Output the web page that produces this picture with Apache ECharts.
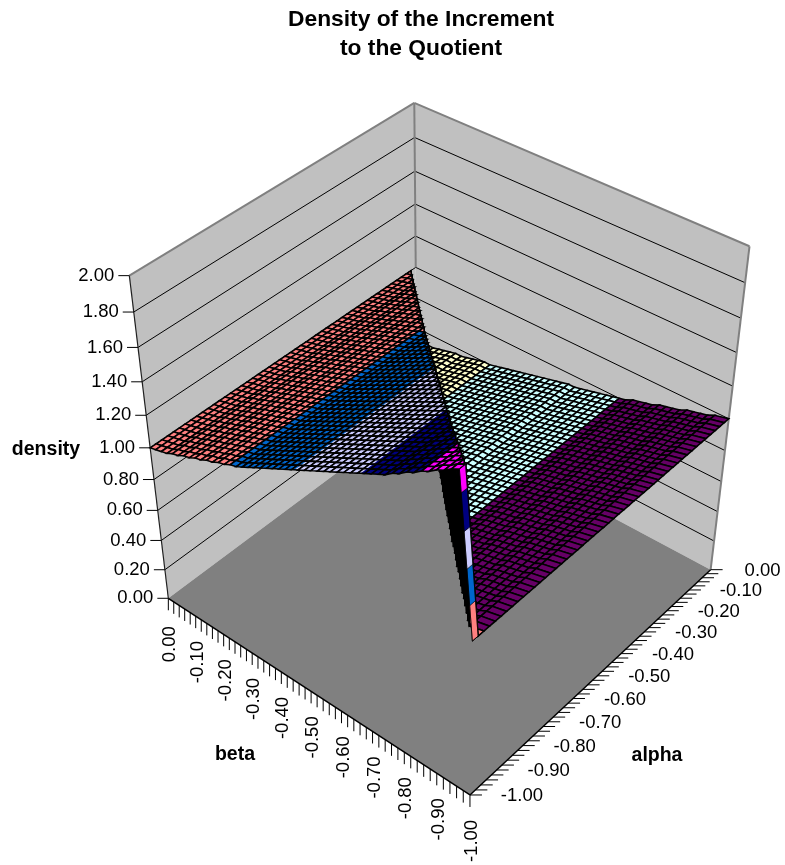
<!DOCTYPE html>
<html>
<head>
<meta charset="utf-8">
<title>Density of the Increment to the Quotient</title>
<script src="https://cdn.jsdelivr.net/npm/echarts@6/dist/echarts.min.js"></script>
<style>
  html, body { margin: 0; padding: 0; background: #fff; }
  #chart { width: 785px; height: 865px; }
</style>
</head>
<body>
<div id="chart"></div>
<script>
// mesh nodes of the surface
const alphaValues = [0, -0.02, -0.04, -0.06, -0.08, -0.1, -0.12, -0.14, -0.16, -0.18, -0.2, -0.22, -0.24, -0.26, -0.28, -0.3, -0.32, -0.34, -0.36, -0.38, -0.4, -0.42, -0.44, -0.46, -0.48, -0.5, -0.52, -0.54, -0.56, -0.58, -0.6, -0.62, -0.64, -0.66, -0.68, -0.7, -0.72, -0.74, -0.76, -0.78, -0.8, -0.82, -0.84, -0.86, -0.88, -0.9, -0.92, -0.94, -0.96, -0.98, -1];
const betaValues = [0, -0.02, -0.04, -0.06, -0.08, -0.1, -0.12, -0.14, -0.16, -0.18, -0.2, -0.22, -0.24, -0.26, -0.28, -0.3, -0.32, -0.34, -0.36, -0.38, -0.4, -0.42, -0.44, -0.46, -0.48, -0.5, -0.52, -0.54, -0.56, -0.58, -0.6, -0.62, -0.64, -0.66, -0.68, -0.7, -0.72, -0.74, -0.76, -0.78, -0.8, -0.82, -0.84, -0.86, -0.88, -0.9, -0.92, -0.94, -0.96, -1];

// density read per beta, on each side of the alpha = beta fold
const densityAlphaBelowBeta = [1.00, 1.01, 1.02, 1.03, 1.05, 1.06, 1.08, 1.09, 1.11, 1.12, 1.14, 1.15, 1.17, 1.18, 1.20, 1.21, 1.23, 1.25, 1.27, 1.29, 1.31, 1.33, 1.35, 1.37, 1.39, 1.41, 1.43, 1.45, 1.47, 1.49, 1.51, 1.53, 1.55, 1.57, 1.59, 1.61, 1.63, 1.65, 1.67, 1.70, 1.72, 1.75, 1.77, 1.80, 1.82, 1.85, 1.87, 1.90, 1.92, 1.00];
const densityAlphaAboveBeta = [0.50, 0.51, 0.52, 0.52, 0.53, 0.54, 0.55, 0.56, 0.56, 0.57, 0.58, 0.59, 0.60, 0.60, 0.61, 0.62, 0.63, 0.64, 0.65, 0.66, 0.67, 0.68, 0.69, 0.70, 0.71, 0.72, 0.73, 0.73, 0.74, 0.75, 0.76, 0.77, 0.78, 0.79, 0.80, 0.81, 0.83, 0.84, 0.85, 0.86, 0.88, 0.89, 0.90, 0.91, 0.93, 0.94, 0.95, 0.96, 0.98, 1.00];

// axis ticks
const alphaTicks = [0, -0.1, -0.2, -0.3, -0.4, -0.5, -0.6, -0.7, -0.8, -0.9, -1];
const betaTicks = [0, -0.1, -0.2, -0.3, -0.4, -0.5, -0.6, -0.7, -0.8, -0.9, -1];
const densityTicks = [0, 0.2, 0.4, 0.6, 0.8, 1, 1.2, 1.4, 1.6, 1.8, 2];
const floorMinorTicks = [0, -0.02, -0.04, -0.06, -0.08, -0.1, -0.12, -0.14, -0.16, -0.18, -0.2, -0.22, -0.24, -0.26, -0.28, -0.3, -0.32, -0.34, -0.36, -0.38, -0.4, -0.42, -0.44, -0.46, -0.48, -0.5, -0.52, -0.54, -0.56, -0.58, -0.6, -0.62, -0.64, -0.66, -0.68, -0.7, -0.72, -0.74, -0.76, -0.78, -0.8, -0.82, -0.84, -0.86, -0.88, -0.9, -0.92, -0.94, -0.96, -0.98, -1];

// one colour per 0.2 of density
const bandColors = ['#9999ff', '#993366', '#ffffcc', '#ccffff', '#660066', '#ff8080', '#0066cc', '#ccccff', '#000080', '#ff00ff'];
const bandSize = 0.2;

// where box corners land on the page: alpha, beta, density, x, y
const cameraAnchors = [
  [-1, -1, 0, 471, 795],
  [-1, 0, 0, 168, 597],
  [0, -1, 0, 712, 570],
  [0, 0, 0, 416, 414],
  [-1, 0, 2, 129, 275],
  [0, -1, 2, 750, 248],
  [0, 0, 2, 415, 102],
  [-1, 0, 1, 151, 449],
  [0, -1, 1, 727, 416],
  [0, 0, 1, 416, 268],
  [-1, -1, 1, 471, 642]
];

const FONT = '"Liberation Sans", Arial, sans-serif';

function solveCamera(anchors) {
  const n = 11;
  const m = [];
  for (let r = 0; r < n; r++) m.push(new Array(n + 1).fill(0));
  anchors.forEach(([a, b, z, x, y]) => {
    const rows = [
      [a, b, z, 1, 0, 0, 0, 0, -x * a, -x * b, -x * z, x],
      [0, 0, 0, 0, a, b, z, 1, -y * a, -y * b, -y * z, y]
    ];
    rows.forEach(row => {
      for (let r = 0; r < n; r++) {
        for (let c = 0; c <= n; c++) m[r][c] += row[r] * row[c];
      }
    });
  });
  for (let c = 0; c < n; c++) {
    let best = c;
    for (let r = c + 1; r < n; r++) if (Math.abs(m[r][c]) > Math.abs(m[best][c])) best = r;
    [m[c], m[best]] = [m[best], m[c]];
    for (let r = 0; r < n; r++) {
      if (r === c) continue;
      const f = m[r][c] / m[c][c];
      for (let k = c; k <= n; k++) m[r][k] -= f * m[c][k];
    }
  }
  return m.map((row, i) => row[n] / row[i]);
}

const cam = solveCamera(cameraAnchors);

function project(a, b, z) {
  const w = cam[8] * a + cam[9] * b + cam[10] * z + 1;
  return [
    (cam[0] * a + cam[1] * b + cam[2] * z + cam[3]) / w,
    (cam[4] * a + cam[5] * b + cam[6] * z + cam[7]) / w
  ];
}

function density(i, j) {
  return alphaValues[i] < betaValues[j] ? densityAlphaBelowBeta[j] : densityAlphaAboveBeta[j];
}

function cutAt(points, level, keepAbove) {
  const out = [];
  points.forEach((p, k) => {
    const q = points[(k + 1) % points.length];
    const pIn = keepAbove ? p[2] >= level : p[2] <= level;
    const qIn = keepAbove ? q[2] >= level : q[2] <= level;
    if (pIn) out.push(p);
    if (pIn !== qIn) {
      const t = (level - p[2]) / (q[2] - p[2]);
      out.push([p[0] + t * (q[0] - p[0]), p[1] + t * (q[1] - p[1]), level]);
    }
  });
  return out;
}

function polygon(api, points, style) {
  return {
    type: 'polygon',
    shape: { points: points.map(p => api.coord(project(p[0], p[1], p[2]))) },
    style: style
  };
}

function line(api, p, q, stroke, width) {
  const from = api.coord(p);
  const to = api.coord(q);
  return {
    type: 'line',
    shape: { x1: from[0], y1: from[1], x2: to[0], y2: to[1] },
    style: { stroke: stroke, lineWidth: width }
  };
}

function label(api, text, at, align, rotation) {
  const pos = api.coord(at);
  return {
    type: 'text',
    x: pos[0],
    y: pos[1],
    rotation: rotation || 0,
    style: { text: text, font: '18.5px ' + FONT, fill: '#000', align: align, verticalAlign: 'middle' }
  };
}

// floor, walls and the lines drawn on them
function renderBox(params, api) {
  const children = [
    polygon(api, [[-1, 0, 0], [0, 0, 0], [0, 0, 2], [-1, 0, 2]], { fill: '#c0c0c0' }),
    polygon(api, [[0, -1, 0], [0, 0, 0], [0, 0, 2], [0, -1, 2]], { fill: '#c0c0c0' })
  ];
  densityTicks.forEach(z => {
    if (z === 0 || z === 2) return;
    children.push(line(api, project(-1, 0, z), project(0, 0, z), '#000', 1));
    children.push(line(api, project(0, 0, z), project(0, -1, z), '#000', 1));
  });
  children.push(polygon(api, [[-1, 0, 0], [-1, -1, 0], [0, -1, 0], [0, 0, 0]], { fill: '#808080' }));
  children.push(line(api, project(-1, 0, 2), project(0, 0, 2), '#808080', 2));
  children.push(line(api, project(0, 0, 2), project(0, -1, 2), '#808080', 2));
  children.push(line(api, project(0, 0, 2), project(0, 0, 1), '#808080', 2));
  children.push(line(api, project(0, -1, 2), project(0, -1, 0), '#808080', 2));
  children.push(line(api, project(-1, 0, 2), project(-1, 0, 0), '#202020', 1.2));
  children.push(line(api, project(-1, 0, 0), project(-1, -1, 0), '#000', 1.5));
  children.push(line(api, project(-1, -1, 0), project(0, -1, 0), '#000', 1.5));
  return { type: 'group', children: children };
}

function renderDensityAxis(params, api) {
  const z = densityTicks[api.value(0)];
  const p = project(-1, 0, z);
  return {
    type: 'group',
    children: [
      line(api, p, [p[0] - 11, p[1]], '#000', 1),
      label(api, z.toFixed(2), [p[0] - 15, p[1]], 'right')
    ]
  };
}

function renderAlphaTick(params, api) {
  const p = project(floorMinorTicks[api.value(0)], -1, 0);
  return line(api, p, [p[0] + 12, p[1]], '#000', 1);
}

function renderBetaTick(params, api) {
  const p = project(-1, floorMinorTicks[api.value(0)], 0);
  return line(api, p, [p[0], p[1] + 12], '#000', 1);
}

function renderAlphaLabel(params, api) {
  const v = alphaTicks[api.value(0)];
  const p = project(v, -1, 0);
  return label(api, v.toFixed(2), [p[0] + 52, p[1] + 1], 'center');
}

function renderBetaLabel(params, api) {
  const v = betaTicks[api.value(0)];
  const p = project(-1, v, 0);
  return label(api, v.toFixed(2), [p[0] + 2, p[1] + 46], 'center', Math.PI / 2);
}

function renderCell(params, api) {
  const i = api.value(0);
  const j = api.value(1);
  const corners = [[i, j], [i + 1, j], [i + 1, j + 1], [i, j + 1]].map(([u, v]) => [alphaValues[u], betaValues[v], density(u, v)]);
  const zs = corners.map(c => c[2]);
  const spike = Math.max(...zs) - Math.min(...zs) > 0.3;
  const frontCell = i === alphaValues.length - 2 && j === betaValues.length - 2;
  const children = [];
  bandColors.forEach((color, k) => {
    const lo = k * bandSize;
    const hi = (k + 1) * bandSize;
    if (Math.max(...zs) < lo || Math.min(...zs) > hi) return;
    const piece = cutAt(cutAt(corners, lo, true), hi, false);
    if (piece.length < 3) return;
    children.push(polygon(api, piece, spike
      ? { fill: color, stroke: '#000', lineWidth: 0.5 }
      : { fill: color }));
  });
  children.push(polygon(api, corners, { fill: 'none', stroke: '#000', lineWidth: frontCell ? 0.8 : 1.6 }));
  return { type: 'group', children: children };
}

const cells = [];
for (let i = 0; i < alphaValues.length - 1; i++) {
  for (let j = 0; j < betaValues.length - 1; j++) cells.push([i, j]);
}

function customSeries(data, renderItem) {
  return {
    type: 'custom',
    coordinateSystem: 'cartesian2d',
    data: data,
    renderItem: renderItem,
    silent: true,
    progressive: 0,
    clip: false
  };
}

const chart = echarts.init(document.getElementById('chart'), null, { renderer: 'canvas' });

chart.setOption({
  animation: false,
  backgroundColor: '#fff',
  title: {
    text: 'Density of the Increment\nto the Quotient',
    left: 416,
    top: 0,
    textAlign: 'center',
    textStyle: { fontFamily: FONT, fontSize: 22.8, fontWeight: 'bold', color: '#000', lineHeight: 29 }
  },
  grid: { left: 0, right: 0, top: 0, bottom: 0 },
  xAxis: { type: 'value', min: 0, max: 785, show: false },
  yAxis: { type: 'value', min: 0, max: 865, inverse: true, show: false },
  graphic: [
    { type: 'text', x: 46, y: 450, style: { text: 'density', font: 'bold 19.5px ' + FONT, fill: '#000', align: 'center', verticalAlign: 'middle' } },
    { type: 'text', x: 235, y: 755, style: { text: 'beta', font: 'bold 19.5px ' + FONT, fill: '#000', align: 'center', verticalAlign: 'middle' } },
    { type: 'text', x: 657, y: 756, style: { text: 'alpha', font: 'bold 19.5px ' + FONT, fill: '#000', align: 'center', verticalAlign: 'middle' } }
  ],
  series: [
    customSeries([[0]], renderBox),
    customSeries(densityTicks.map((v, k) => [k]), renderDensityAxis),
    customSeries(floorMinorTicks.map((v, k) => [k]), renderAlphaTick),
    customSeries(floorMinorTicks.map((v, k) => [k]), renderBetaTick),
    customSeries(alphaTicks.map((v, k) => [k]), renderAlphaLabel),
    customSeries(betaTicks.map((v, k) => [k]), renderBetaLabel),
    customSeries(cells, renderCell)
  ]
});
</script>
</body>
</html>
